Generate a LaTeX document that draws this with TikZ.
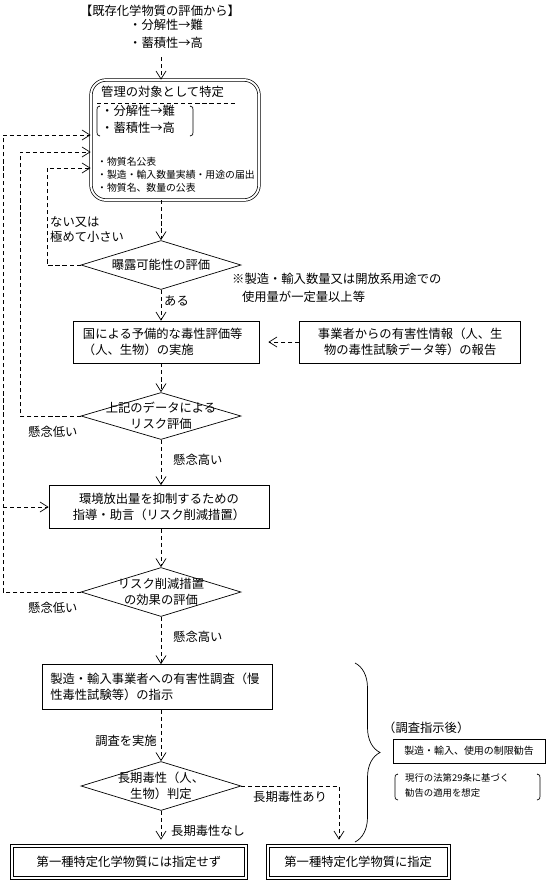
\documentclass[tikz,border=0pt]{standalone}
\usepackage{fontspec}
\setmainfont{Noto Sans CJK JP}
\usetikzlibrary{arrows.meta, positioning, decorations.pathreplacing, shapes.geometric}
\newcommand{\fmain}{\fontsize{10.5pt}{14pt}\selectfont}
\newcommand{\fsmall}{\fontsize{8.4pt}{11pt}\selectfont}
\tikzset{
    box/.style={draw, line width=0.6pt, font=\fmain, align=center, inner sep=0pt},
    leftbox/.style={box, align=left, inner xsep=0.3cm},
    finalbox/.style={box, double, double distance=2pt, minimum height=0.96cm},
    decision/.style={diamond, draw, line width=0.6pt, inner sep=0pt,
                     minimum width=4.8cm, minimum height=1.47cm},
    dlbl/.style={font=\fmain, align=center, inner sep=0pt},
    lbl/.style={font=\fmain, align=left, inner sep=0pt},
    dashline/.style={line width=0.6pt, dash pattern=on 3.5pt off 2.5pt},
    arrow/.style={dashline, -{Straight Barb[length=2.4mm, width=3mm]}},
}

\begin{document}
\begin{tikzpicture}[x=0.03cm, y=-0.03cm]
    \useasboundingbox (0,0) rectangle (549,884);
    % source
    \node[lbl] (src) at (160,11) {【既存化学物質の評価から】};
    \node[lbl, anchor=north west, font=\fontsize{10.5pt}{15.4pt}\selectfont] (srcitems) at (129,19) {・分解性→難\\・蓄積性→高};
    \coordinate (srcend) at (161,57);
    % managed substance
    \node[box, double, double distance=1.6pt, rounded corners=0.45cm,
          minimum width=5.04cm, minimum height=3.6cm] (kanri) at (175,140) {};
    \node[lbl, anchor=west] (kanrit) at (101,92) {管理の対象として特定};
    \draw[dashline] (97,103) -- (235,103);
    \node[lbl, anchor=north west, font=\fontsize{10.5pt}{14.5pt}\selectfont] (kanrip) at (101,105) {・分解性→難\\・蓄積性→高};
    \draw[line width=0.6pt] (100,106) .. controls (97,107) .. (97,110) -- (97,132) .. controls (97,135) .. (100,136);
    \draw[line width=0.6pt] (190,106) .. controls (193,107) .. (193,110) -- (193,132) .. controls (193,135) .. (190,136);
    \node[lbl, anchor=north west, font=\fsmall] (kanris) at (97,157) {・物質名公表\\・製造・輸入数量実績・用途の届出\\・物質名、数量の公表};
    % column
    \node[decision, label={[dlbl]center:{曝露可能性の評価}}] (expo) at (161,265) {};
    \node[leftbox, minimum width=5.58cm, minimum height=1.26cm, text width=4.98cm] (kokuni) at (166,342)
        {国による予備的な毒性評価等\\（人、生物）の実施};
    \node[box, minimum width=6.63cm, minimum height=1.26cm, right=1.2cm of kokuni] (jigyo)
        {事業者からの有害性情報（人、生\\物の毒性試験データ等）の報告};
    \node[decision, minimum height=1.41cm, label={[dlbl]center:{上記のデータによる\\リスク評価}}] (risk1) at (161,416) {};
    \node[box, minimum width=6.6cm, minimum height=1.29cm] (kankyo) at (159,507)
        {環境放出量を抑制するための\\指導・助言（リスク削減措置）};
    \node[decision, label={[dlbl]center:{リスク削減措置\\の効果の評価}}] (risk2) at (161,592) {};
    \node[leftbox, minimum width=6.9cm, minimum height=1.35cm, text width=6.4cm, inner xsep=0.25cm] (chosa) at (157,687)
        {製造・輸入事業者への有害性調査（慢\\性毒性試験等）の指示};
    \node[decision, label={[dlbl]center:{長期毒性（人、\\生物）判定}}] (chronic) at (161,786) {};
    \node[finalbox, minimum width=7.02cm] (final1) at (129,862) {第一種特定化学物質には指定せず};
    \node[finalbox, minimum width=5.43cm, right=0.63cm of final1] (final2) {第一種特定化学物質に指定};
    % labels
    \node[lbl, anchor=north west, font=\fontsize{10.5pt}{13pt}\selectfont] (nai) at (50,216) {ない又は\\極めて小さい};
    \node[lbl, anchor=north west, font=\fontsize{10.5pt}{15.4pt}\selectfont] (kome) at (232,273)
        {※製造・輸入数量又は開放系用途での\\\hspace{0.8em}使用量が一定量以上等};
    \node[lbl, anchor=west] (aru) at (164,301) {ある};
    \node[lbl, anchor=west] (low1) at (28,432) {懸念低い};
    \node[lbl, anchor=west] (high1) at (173,460) {懸念高い};
    \node[lbl, anchor=west] (low2) at (28,608) {懸念低い};
    \node[lbl, anchor=west] (high2) at (173,637) {懸念高い};
    \node[lbl, anchor=east] (jisshi) at (157,741) {調査を実施};
    \node[lbl, anchor=west] (ari) at (253,797) {長期毒性あり};
    \node[lbl, anchor=west] (nashi) at (171,831) {長期毒性なし};
    % right notes
    \draw[decorate, decoration={brace, amplitude=0.75cm}, line width=0.6pt] (355,663) -- (355,842);
    \node[lbl, anchor=west] (shiji) at (383,728) {（調査指示後）};
    \node[box, font=\fontsize{8.5pt}{10pt}\selectfont, minimum width=4.56cm, minimum height=0.72cm] (seigen) at (469,751) {製造・輸入、使用の制限勧告};
    \node[lbl, anchor=north west, font=\fontsize{8pt}{13pt}\selectfont] (kankoku) at (405,773) {現行の法第29条に基づく\\勧告の適用を想定};
    \draw[line width=0.6pt] (398,774) .. controls (395,775) .. (395,778) -- (395,796) .. controls (395,799) .. (398,800);
    \draw[line width=0.6pt] (537,774) .. controls (540,775) .. (540,778) -- (540,796) .. controls (540,799) .. (537,800);
    % connectors
    \coordinate (railA) at (3,135);
    \coordinate (railB) at (20,152);
    \coordinate (railC) at (47,168);
    \coordinate (railD) at (339,786);
    \draw[arrow] (srcend) -- (kanri.north -| srcend);
    \draw[arrow] (kanri.south -| expo) -- (expo.north);
    \draw[arrow] (expo.south) -- (kokuni.north -| expo.south);
    \draw[arrow, shorten >=0.27cm] (jigyo.west) -- (kokuni.east);
    \draw[arrow] (kokuni.south -| risk1) -- (risk1.north);
    \draw[arrow] (risk1.south) -- (kankyo.north -| risk1.south);
    \draw[arrow] (kankyo.south -| risk2) -- (risk2.north);
    \draw[arrow] (risk2.south) -- (chosa.north -| risk2.south);
    \draw[arrow] (chosa.south -| chronic) -- (chronic.north);
    \draw[arrow, shorten >=0.18cm] (chronic.south) -- (final1.north -| chronic.south);
    \draw[arrow, shorten >=0.18cm] (chronic.east) -- (railD) -- (final2.north -| railD);
    \draw[arrow] (risk2.west) -| (railA) -- (kanri.west |- railA);
    \draw[arrow] (railA |- kankyo.west) -- (kankyo.west);
    \draw[arrow] (risk1.west) -| (railB) -- (kanri.west |- railB);
    \draw[arrow] (expo.west) -| (railC) -- (kanri.west |- railC);
\end{tikzpicture}
\end{document}
